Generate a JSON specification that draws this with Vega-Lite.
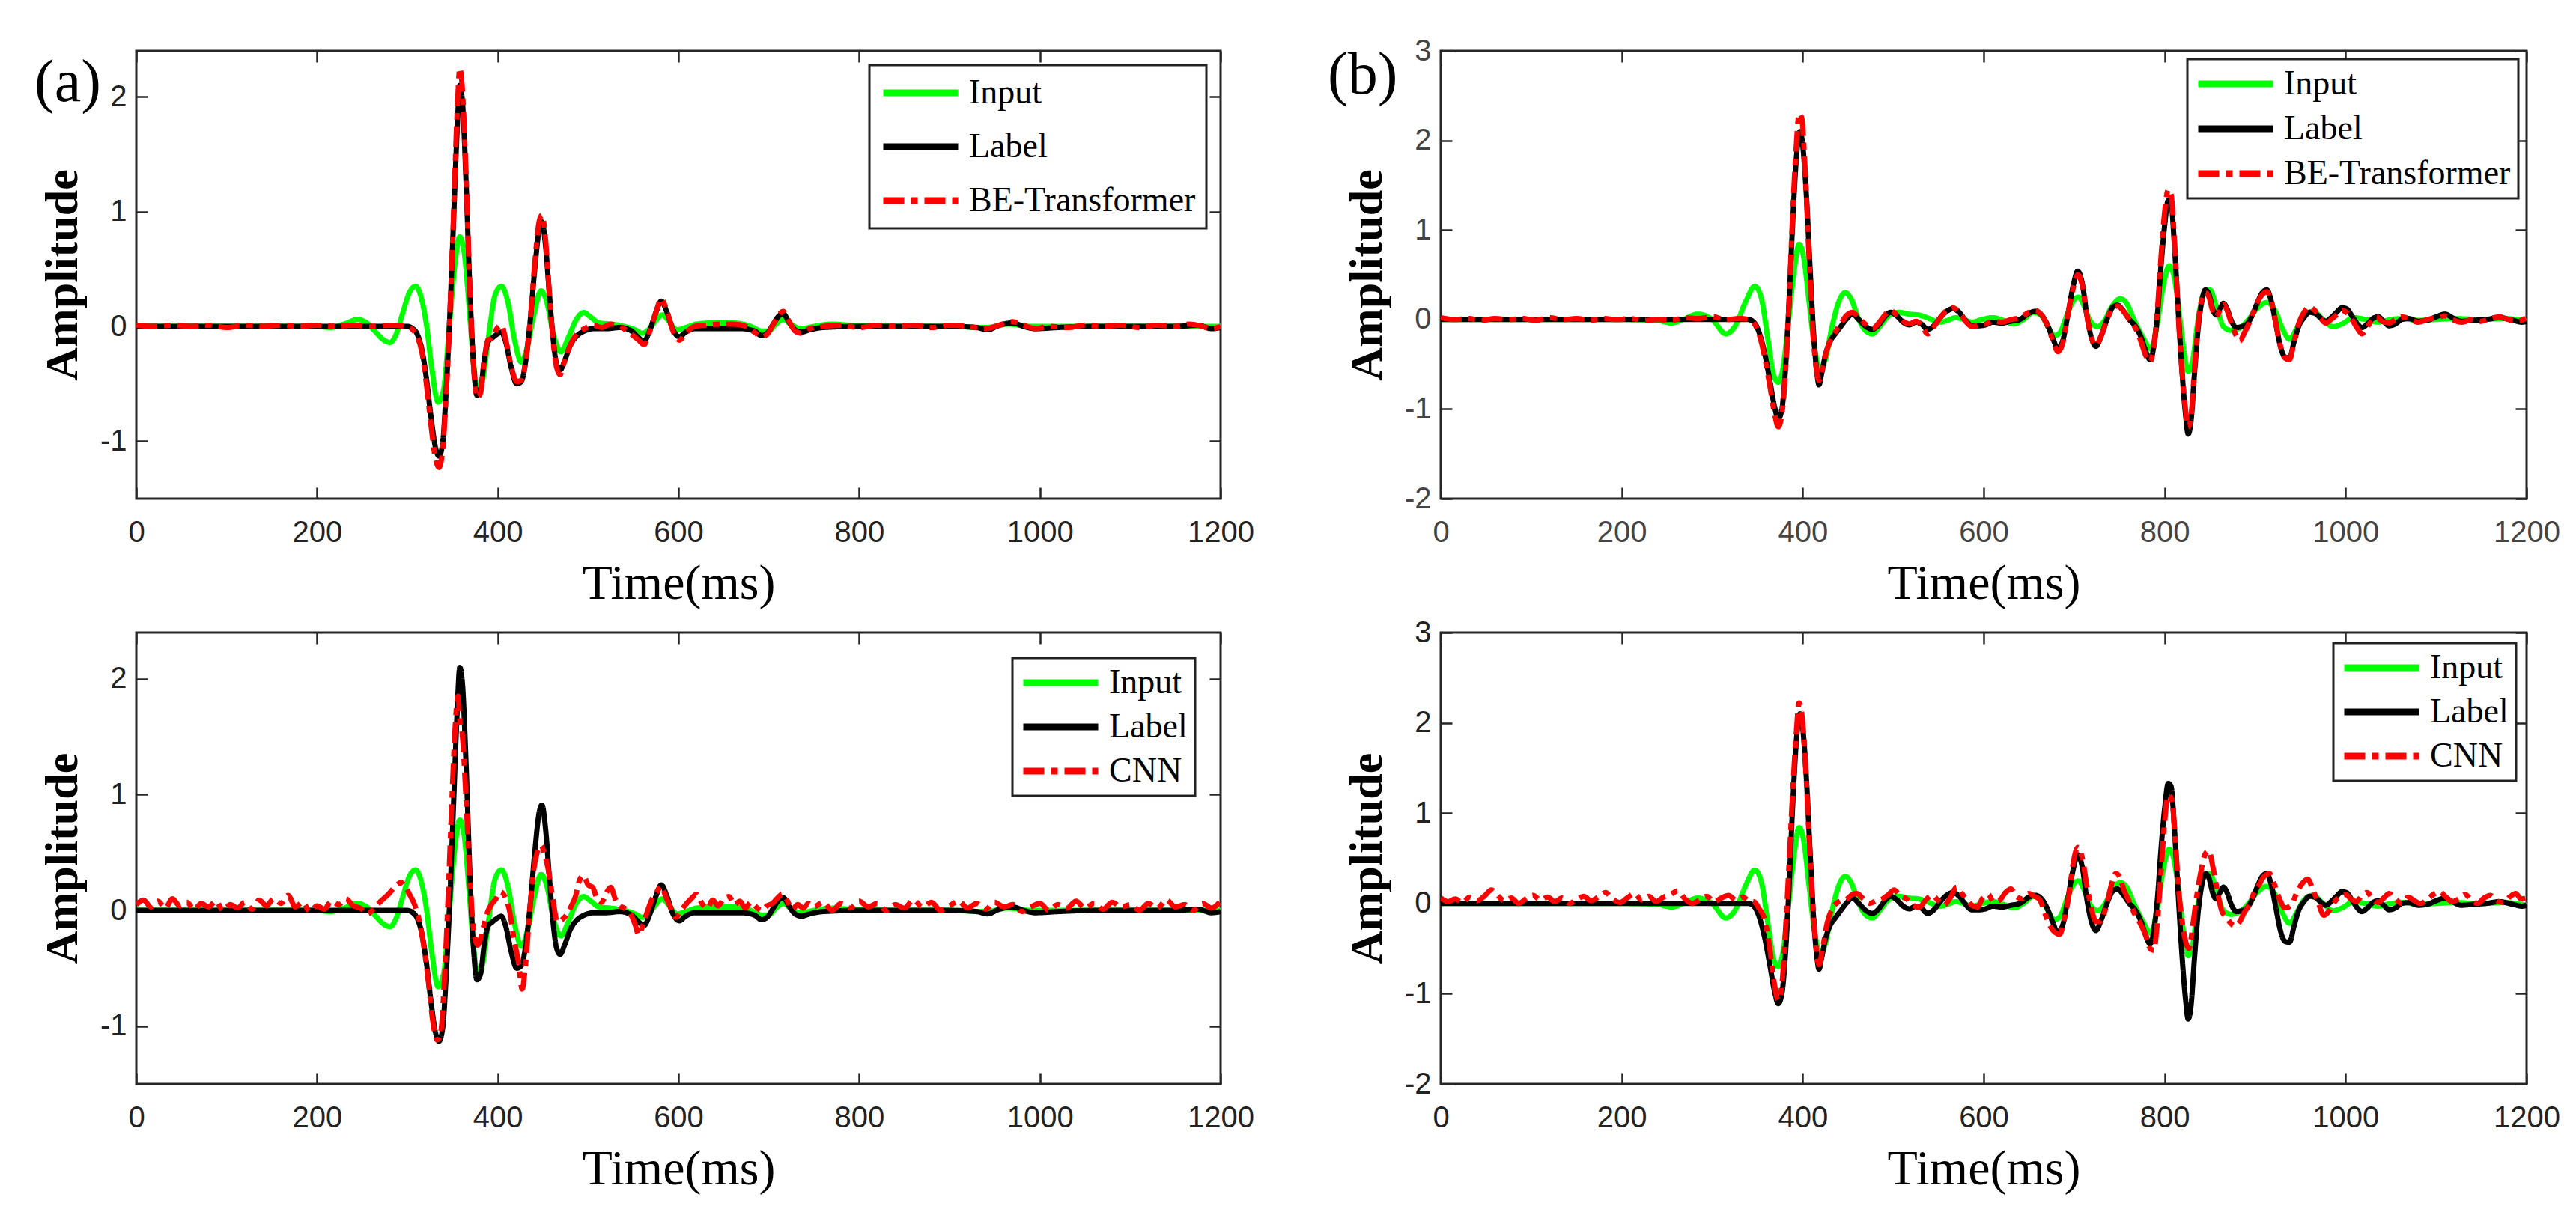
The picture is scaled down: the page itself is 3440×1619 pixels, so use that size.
{
  "$schema": "https://vega.github.io/schema/vega-lite/v6.json",
  "background": "white",
  "padding": {"left": 44, "top": 46, "right": 5, "bottom": 5},
  "columns": 2,
  "spacing": {"row": 179, "column": 294},
  "bounds": "flush",
  "resolve": {
    "scale": {"x": "independent", "y": "independent", "color": "independent", "strokeDash": "independent"},
    "legend": {"color": "independent", "strokeDash": "independent"}
  },
  "config": {
    "view": {"stroke": "#262626", "strokeWidth": 3},
    "axis": {
      "domain": false, "grid": false, "tickSize": -15, "tickWidth": 2.5, "tickColor": "#262626",
      "labelFont": "Liberation Sans", "labelFontSize": 40, "labelColor": "#222222",
      "titleFont": "Liberation Serif", "titleColor": "#000000",
      "labelFlush": false, "labelOverlap": false
    },
    "axisX": {"labelPadding": 40, "titleFontSize": 66, "titleFontWeight": "normal", "titlePadding": 16},
    "axisY": {"labelPadding": 28, "titleFontSize": 62, "titleFontWeight": "bold", "titlePadding": 18},
    "legend": {
      "title": null, "orient": "top-right", "symbolType": "stroke", "symbolSize": 10000,
      "symbolStrokeWidth": 9, "clipHeight": 46, "labelFont": "Liberation Serif", "labelFontSize": 46,
      "labelColor": "#000000", "labelOffset": 10, "labelLimit": 500, "strokeColor": "#222222", "fillColor": "white"
    },
    "text": {"font": "Liberation Serif", "fontSize": 80, "color": "#000000", "align": "left", "baseline": "top"}
  },
  "datasets": {
    "a_input": [
      {"t":0,"v":0,"series":"Input"},{"t":150,"v":0,"series":"Input"},{"t":200,"v":0,"series":"Input"},{"t":215,"v":-0.01,"series":"Input"},{"t":230,"v":0.02,"series":"Input"},{"t":245,"v":0.06,"series":"Input"},{"t":255,"v":0.03,"series":"Input"},{"t":265,"v":-0.05,"series":"Input"},{"t":274,"v":-0.12,"series":"Input"},{"t":281,"v":-0.14,"series":"Input"},{"t":288,"v":-0.06,"series":"Input"},{"t":295,"v":0.12,"series":"Input"},{"t":302,"v":0.29,"series":"Input"},{"t":309,"v":0.35,"series":"Input"},{"t":315,"v":0.26,"series":"Input"},{"t":321,"v":0.02,"series":"Input"},{"t":327,"v":-0.36,"series":"Input"},{"t":334,"v":-0.66,"series":"Input"},{"t":340,"v":-0.55,"series":"Input"},{"t":346,"v":-0.05,"series":"Input"},{"t":352,"v":0.5,"series":"Input"},{"t":358,"v":0.78,"series":"Input"},{"t":363,"v":0.64,"series":"Input"},{"t":368,"v":0.2,"series":"Input"},{"t":373,"v":-0.3,"series":"Input"},{"t":378,"v":-0.57,"series":"Input"},{"t":383,"v":-0.48,"series":"Input"},{"t":390,"v":-0.08,"series":"Input"},{"t":397,"v":0.27,"series":"Input"},{"t":404,"v":0.35,"series":"Input"},{"t":411,"v":0.22,"series":"Input"},{"t":419,"v":-0.13,"series":"Input"},{"t":426,"v":-0.31,"series":"Input"},{"t":433,"v":-0.17,"series":"Input"},{"t":440,"v":0.1,"series":"Input"},{"t":448,"v":0.31,"series":"Input"},{"t":454,"v":0.22,"series":"Input"},{"t":462,"v":-0.08,"series":"Input"},{"t":470,"v":-0.22,"series":"Input"},{"t":478,"v":-0.1,"series":"Input"},{"t":487,"v":0.06,"series":"Input"},{"t":495,"v":0.12,"series":"Input"},{"t":503,"v":0.08,"series":"Input"},{"t":512,"v":0.03,"series":"Input"},{"t":525,"v":0.02,"series":"Input"},{"t":540,"v":0.0,"series":"Input"},{"t":552,"v":-0.03,"series":"Input"},{"t":560,"v":-0.06,"series":"Input"},{"t":568,"v":-0.02,"series":"Input"},{"t":575,"v":0.05,"series":"Input"},{"t":582,"v":0.1,"series":"Input"},{"t":590,"v":0.04,"series":"Input"},{"t":598,"v":-0.03,"series":"Input"},{"t":608,"v":-0.01,"series":"Input"},{"t":620,"v":0.02,"series":"Input"},{"t":640,"v":0.03,"series":"Input"},{"t":660,"v":0.03,"series":"Input"},{"t":680,"v":0.0,"series":"Input"},{"t":692,"v":-0.04,"series":"Input"},{"t":700,"v":-0.04,"series":"Input"},{"t":708,"v":0.02,"series":"Input"},{"t":716,"v":0.06,"series":"Input"},{"t":724,"v":0.02,"series":"Input"},{"t":735,"v":-0.02,"series":"Input"},{"t":750,"v":0.0,"series":"Input"},{"t":770,"v":0.02,"series":"Input"},{"t":790,"v":0.01,"series":"Input"},{"t":850,"v":0.0,"series":"Input"},{"t":900,"v":0.0,"series":"Input"},{"t":940,"v":-0.01,"series":"Input"},{"t":965,"v":0.02,"series":"Input"},{"t":990,"v":0.0,"series":"Input"},{"t":1050,"v":0.0,"series":"Input"},{"t":1100,"v":0.0,"series":"Input"},{"t":1150,"v":0.0,"series":"Input"},{"t":1200,"v":0.0,"series":"Input"}
    ],
    "a_label": [
      {"t":0,"v":0,"series":"Label"},{"t":100,"v":0,"series":"Label"},{"t":200,"v":0,"series":"Label"},{"t":280,"v":0,"series":"Label"},{"t":300,"v":0,"series":"Label"},{"t":306,"v":-0.02,"series":"Label"},{"t":311,"v":-0.07,"series":"Label"},{"t":316,"v":-0.2,"series":"Label"},{"t":321,"v":-0.45,"series":"Label"},{"t":326,"v":-0.78,"series":"Label"},{"t":331,"v":-1.05,"series":"Label"},{"t":335,"v":-1.13,"series":"Label"},{"t":339,"v":-1.02,"series":"Label"},{"t":343,"v":-0.55,"series":"Label"},{"t":347,"v":0.1,"series":"Label"},{"t":351,"v":0.9,"series":"Label"},{"t":355,"v":1.7,"series":"Label"},{"t":358,"v":2.1,"series":"Label"},{"t":361,"v":1.95,"series":"Label"},{"t":365,"v":1.25,"series":"Label"},{"t":369,"v":0.35,"series":"Label"},{"t":373,"v":-0.3,"series":"Label"},{"t":377,"v":-0.6,"series":"Label"},{"t":381,"v":-0.55,"series":"Label"},{"t":385,"v":-0.3,"series":"Label"},{"t":389,"v":-0.14,"series":"Label"},{"t":394,"v":-0.1,"series":"Label"},{"t":399,"v":-0.07,"series":"Label"},{"t":404,"v":-0.05,"series":"Label"},{"t":409,"v":-0.14,"series":"Label"},{"t":415,"v":-0.36,"series":"Label"},{"t":421,"v":-0.5,"series":"Label"},{"t":426,"v":-0.48,"series":"Label"},{"t":431,"v":-0.3,"series":"Label"},{"t":436,"v":0.05,"series":"Label"},{"t":441,"v":0.5,"series":"Label"},{"t":446,"v":0.85,"series":"Label"},{"t":449,"v":0.91,"series":"Label"},{"t":453,"v":0.7,"series":"Label"},{"t":457,"v":0.3,"series":"Label"},{"t":461,"v":-0.08,"series":"Label"},{"t":465,"v":-0.32,"series":"Label"},{"t":469,"v":-0.38,"series":"Label"},{"t":474,"v":-0.3,"series":"Label"},{"t":480,"v":-0.17,"series":"Label"},{"t":488,"v":-0.08,"series":"Label"},{"t":496,"v":-0.04,"series":"Label"},{"t":506,"v":-0.02,"series":"Label"},{"t":520,"v":-0.02,"series":"Label"},{"t":535,"v":-0.01,"series":"Label"},{"t":548,"v":-0.04,"series":"Label"},{"t":556,"v":-0.1,"series":"Label"},{"t":562,"v":-0.13,"series":"Label"},{"t":568,"v":-0.04,"series":"Label"},{"t":575,"v":0.12,"series":"Label"},{"t":581,"v":0.22,"series":"Label"},{"t":587,"v":0.13,"series":"Label"},{"t":594,"v":-0.03,"series":"Label"},{"t":601,"v":-0.09,"series":"Label"},{"t":608,"v":-0.05,"series":"Label"},{"t":618,"v":-0.02,"series":"Label"},{"t":640,"v":-0.02,"series":"Label"},{"t":670,"v":-0.02,"series":"Label"},{"t":684,"v":-0.04,"series":"Label"},{"t":692,"v":-0.08,"series":"Label"},{"t":698,"v":-0.06,"series":"Label"},{"t":705,"v":0.02,"series":"Label"},{"t":711,"v":0.09,"series":"Label"},{"t":716,"v":0.11,"series":"Label"},{"t":722,"v":0.04,"series":"Label"},{"t":729,"v":-0.03,"series":"Label"},{"t":736,"v":-0.05,"series":"Label"},{"t":745,"v":-0.03,"series":"Label"},{"t":760,"v":-0.01,"series":"Label"},{"t":800,"v":0.0,"series":"Label"},{"t":850,"v":0.0,"series":"Label"},{"t":900,"v":0.0,"series":"Label"},{"t":930,"v":-0.01,"series":"Label"},{"t":942,"v":-0.03,"series":"Label"},{"t":955,"v":0.01,"series":"Label"},{"t":970,"v":0.03,"series":"Label"},{"t":982,"v":0.0,"series":"Label"},{"t":995,"v":-0.02,"series":"Label"},{"t":1020,"v":-0.01,"series":"Label"},{"t":1060,"v":0.0,"series":"Label"},{"t":1100,"v":0.0,"series":"Label"},{"t":1150,"v":0.0,"series":"Label"},{"t":1175,"v":0.01,"series":"Label"},{"t":1190,"v":-0.02,"series":"Label"},{"t":1200,"v":-0.01,"series":"Label"}
    ],
    "a_be": [
      {"t":0,"v":0.01,"series":"BE-Transformer"},{"t":20,"v":0.0,"series":"BE-Transformer"},{"t":40,"v":0.01,"series":"BE-Transformer"},{"t":60,"v":0.0,"series":"BE-Transformer"},{"t":80,"v":0.01,"series":"BE-Transformer"},{"t":100,"v":-0.01,"series":"BE-Transformer"},{"t":120,"v":0.01,"series":"BE-Transformer"},{"t":140,"v":0.0,"series":"BE-Transformer"},{"t":160,"v":0.01,"series":"BE-Transformer"},{"t":180,"v":0.0,"series":"BE-Transformer"},{"t":200,"v":0.01,"series":"BE-Transformer"},{"t":220,"v":0.0,"series":"BE-Transformer"},{"t":240,"v":0.01,"series":"BE-Transformer"},{"t":260,"v":0.0,"series":"BE-Transformer"},{"t":280,"v":0.01,"series":"BE-Transformer"},{"t":300,"v":0.0,"series":"BE-Transformer"},{"t":306,"v":-0.03,"series":"BE-Transformer"},{"t":311,"v":-0.09,"series":"BE-Transformer"},{"t":316,"v":-0.22,"series":"BE-Transformer"},{"t":321,"v":-0.5,"series":"BE-Transformer"},{"t":326,"v":-0.85,"series":"BE-Transformer"},{"t":331,"v":-1.15,"series":"BE-Transformer"},{"t":335,"v":-1.23,"series":"BE-Transformer"},{"t":339,"v":-1.08,"series":"BE-Transformer"},{"t":343,"v":-0.58,"series":"BE-Transformer"},{"t":347,"v":0.1,"series":"BE-Transformer"},{"t":351,"v":0.95,"series":"BE-Transformer"},{"t":355,"v":1.85,"series":"BE-Transformer"},{"t":358,"v":2.25,"series":"BE-Transformer"},{"t":361,"v":2.05,"series":"BE-Transformer"},{"t":365,"v":1.3,"series":"BE-Transformer"},{"t":369,"v":0.35,"series":"BE-Transformer"},{"t":373,"v":-0.32,"series":"BE-Transformer"},{"t":377,"v":-0.62,"series":"BE-Transformer"},{"t":381,"v":-0.58,"series":"BE-Transformer"},{"t":385,"v":-0.3,"series":"BE-Transformer"},{"t":389,"v":-0.12,"series":"BE-Transformer"},{"t":394,"v":-0.1,"series":"BE-Transformer"},{"t":399,"v":-0.02,"series":"BE-Transformer"},{"t":404,"v":0.01,"series":"BE-Transformer"},{"t":409,"v":-0.12,"series":"BE-Transformer"},{"t":415,"v":-0.35,"series":"BE-Transformer"},{"t":421,"v":-0.48,"series":"BE-Transformer"},{"t":426,"v":-0.47,"series":"BE-Transformer"},{"t":431,"v":-0.3,"series":"BE-Transformer"},{"t":436,"v":0.05,"series":"BE-Transformer"},{"t":441,"v":0.55,"series":"BE-Transformer"},{"t":446,"v":0.92,"series":"BE-Transformer"},{"t":449,"v":0.97,"series":"BE-Transformer"},{"t":453,"v":0.75,"series":"BE-Transformer"},{"t":457,"v":0.3,"series":"BE-Transformer"},{"t":461,"v":-0.1,"series":"BE-Transformer"},{"t":465,"v":-0.35,"series":"BE-Transformer"},{"t":469,"v":-0.42,"series":"BE-Transformer"},{"t":474,"v":-0.3,"series":"BE-Transformer"},{"t":480,"v":-0.17,"series":"BE-Transformer"},{"t":488,"v":-0.06,"series":"BE-Transformer"},{"t":496,"v":-0.02,"series":"BE-Transformer"},{"t":506,"v":0.01,"series":"BE-Transformer"},{"t":515,"v":-0.01,"series":"BE-Transformer"},{"t":525,"v":0.02,"series":"BE-Transformer"},{"t":535,"v":0.0,"series":"BE-Transformer"},{"t":545,"v":-0.05,"series":"BE-Transformer"},{"t":556,"v":-0.12,"series":"BE-Transformer"},{"t":562,"v":-0.16,"series":"BE-Transformer"},{"t":568,"v":-0.05,"series":"BE-Transformer"},{"t":575,"v":0.12,"series":"BE-Transformer"},{"t":581,"v":0.24,"series":"BE-Transformer"},{"t":587,"v":0.14,"series":"BE-Transformer"},{"t":594,"v":-0.04,"series":"BE-Transformer"},{"t":601,"v":-0.12,"series":"BE-Transformer"},{"t":608,"v":-0.06,"series":"BE-Transformer"},{"t":618,"v":0.0,"series":"BE-Transformer"},{"t":630,"v":0.01,"series":"BE-Transformer"},{"t":645,"v":0.02,"series":"BE-Transformer"},{"t":660,"v":0.02,"series":"BE-Transformer"},{"t":675,"v":0.0,"series":"BE-Transformer"},{"t":684,"v":-0.05,"series":"BE-Transformer"},{"t":692,"v":-0.09,"series":"BE-Transformer"},{"t":698,"v":-0.07,"series":"BE-Transformer"},{"t":705,"v":0.02,"series":"BE-Transformer"},{"t":711,"v":0.1,"series":"BE-Transformer"},{"t":716,"v":0.13,"series":"BE-Transformer"},{"t":722,"v":0.05,"series":"BE-Transformer"},{"t":729,"v":-0.04,"series":"BE-Transformer"},{"t":736,"v":-0.06,"series":"BE-Transformer"},{"t":745,"v":-0.02,"series":"BE-Transformer"},{"t":760,"v":0.0,"series":"BE-Transformer"},{"t":780,"v":0.01,"series":"BE-Transformer"},{"t":800,"v":-0.01,"series":"BE-Transformer"},{"t":820,"v":0.01,"series":"BE-Transformer"},{"t":840,"v":0.0,"series":"BE-Transformer"},{"t":860,"v":0.01,"series":"BE-Transformer"},{"t":880,"v":-0.01,"series":"BE-Transformer"},{"t":900,"v":0.01,"series":"BE-Transformer"},{"t":920,"v":0.0,"series":"BE-Transformer"},{"t":940,"v":-0.02,"series":"BE-Transformer"},{"t":955,"v":0.01,"series":"BE-Transformer"},{"t":970,"v":0.04,"series":"BE-Transformer"},{"t":982,"v":0.01,"series":"BE-Transformer"},{"t":995,"v":-0.02,"series":"BE-Transformer"},{"t":1010,"v":0.0,"series":"BE-Transformer"},{"t":1030,"v":-0.01,"series":"BE-Transformer"},{"t":1050,"v":0.01,"series":"BE-Transformer"},{"t":1070,"v":0.0,"series":"BE-Transformer"},{"t":1090,"v":0.01,"series":"BE-Transformer"},{"t":1110,"v":-0.01,"series":"BE-Transformer"},{"t":1130,"v":0.01,"series":"BE-Transformer"},{"t":1150,"v":0.0,"series":"BE-Transformer"},{"t":1165,"v":0.02,"series":"BE-Transformer"},{"t":1180,"v":0.0,"series":"BE-Transformer"},{"t":1190,"v":-0.02,"series":"BE-Transformer"},{"t":1200,"v":0.0,"series":"BE-Transformer"}
    ],
    "a_cnn": [
      {"t":0,"v":0.05,"series":"CNN"},{"t":8,"v":0.09,"series":"CNN"},{"t":16,"v":0.03,"series":"CNN"},{"t":24,"v":0.08,"series":"CNN"},{"t":32,"v":0.02,"series":"CNN"},{"t":40,"v":0.1,"series":"CNN"},{"t":48,"v":0.04,"series":"CNN"},{"t":56,"v":0.07,"series":"CNN"},{"t":64,"v":0.01,"series":"CNN"},{"t":72,"v":0.06,"series":"CNN"},{"t":80,"v":0.03,"series":"CNN"},{"t":88,"v":0.08,"series":"CNN"},{"t":96,"v":0.0,"series":"CNN"},{"t":104,"v":0.05,"series":"CNN"},{"t":112,"v":0.02,"series":"CNN"},{"t":120,"v":0.07,"series":"CNN"},{"t":128,"v":0.01,"series":"CNN"},{"t":136,"v":0.09,"series":"CNN"},{"t":144,"v":0.04,"series":"CNN"},{"t":152,"v":0.1,"series":"CNN"},{"t":160,"v":0.06,"series":"CNN"},{"t":168,"v":0.13,"series":"CNN"},{"t":176,"v":0.03,"series":"CNN"},{"t":184,"v":0.07,"series":"CNN"},{"t":192,"v":-0.01,"series":"CNN"},{"t":200,"v":0.04,"series":"CNN"},{"t":208,"v":0.01,"series":"CNN"},{"t":216,"v":0.08,"series":"CNN"},{"t":224,"v":0.05,"series":"CNN"},{"t":232,"v":0.1,"series":"CNN"},{"t":240,"v":0.04,"series":"CNN"},{"t":248,"v":0.02,"series":"CNN"},{"t":256,"v":-0.03,"series":"CNN"},{"t":264,"v":0.03,"series":"CNN"},{"t":272,"v":0.09,"series":"CNN"},{"t":279,"v":0.14,"series":"CNN"},{"t":286,"v":0.2,"series":"CNN"},{"t":293,"v":0.24,"series":"CNN"},{"t":298,"v":0.2,"series":"CNN"},{"t":303,"v":0.13,"series":"CNN"},{"t":308,"v":0.05,"series":"CNN"},{"t":313,"v":-0.08,"series":"CNN"},{"t":318,"v":-0.3,"series":"CNN"},{"t":323,"v":-0.6,"series":"CNN"},{"t":328,"v":-0.95,"series":"CNN"},{"t":333,"v":-1.12,"series":"CNN"},{"t":337,"v":-1.05,"series":"CNN"},{"t":341,"v":-0.6,"series":"CNN"},{"t":345,"v":0.1,"series":"CNN"},{"t":349,"v":0.9,"series":"CNN"},{"t":353,"v":1.6,"series":"CNN"},{"t":356,"v":1.85,"series":"CNN"},{"t":358,"v":1.65,"series":"CNN"},{"t":361,"v":1.5,"series":"CNN"},{"t":365,"v":0.95,"series":"CNN"},{"t":369,"v":0.3,"series":"CNN"},{"t":373,"v":-0.15,"series":"CNN"},{"t":378,"v":-0.3,"series":"CNN"},{"t":383,"v":-0.18,"series":"CNN"},{"t":388,"v":-0.03,"series":"CNN"},{"t":393,"v":0.05,"series":"CNN"},{"t":398,"v":0.1,"series":"CNN"},{"t":403,"v":0.16,"series":"CNN"},{"t":408,"v":0.12,"series":"CNN"},{"t":413,"v":0.0,"series":"CNN"},{"t":418,"v":-0.25,"series":"CNN"},{"t":423,"v":-0.45,"series":"CNN"},{"t":427,"v":-0.68,"series":"CNN"},{"t":431,"v":-0.45,"series":"CNN"},{"t":435,"v":-0.05,"series":"CNN"},{"t":439,"v":0.3,"series":"CNN"},{"t":443,"v":0.48,"series":"CNN"},{"t":448,"v":0.56,"series":"CNN"},{"t":452,"v":0.48,"series":"CNN"},{"t":456,"v":0.35,"series":"CNN"},{"t":461,"v":0.1,"series":"CNN"},{"t":466,"v":-0.1,"series":"CNN"},{"t":471,"v":-0.08,"series":"CNN"},{"t":476,"v":-0.04,"series":"CNN"},{"t":481,"v":0.03,"series":"CNN"},{"t":486,"v":0.12,"series":"CNN"},{"t":491,"v":0.27,"series":"CNN"},{"t":495,"v":0.3,"series":"CNN"},{"t":500,"v":0.22,"series":"CNN"},{"t":505,"v":0.2,"series":"CNN"},{"t":510,"v":0.1,"series":"CNN"},{"t":515,"v":0.07,"series":"CNN"},{"t":520,"v":0.15,"series":"CNN"},{"t":525,"v":0.2,"series":"CNN"},{"t":530,"v":0.1,"series":"CNN"},{"t":535,"v":0.04,"series":"CNN"},{"t":540,"v":0.02,"series":"CNN"},{"t":547,"v":-0.03,"series":"CNN"},{"t":552,"v":-0.12,"series":"CNN"},{"t":556,"v":-0.21,"series":"CNN"},{"t":561,"v":-0.12,"series":"CNN"},{"t":566,"v":0.0,"series":"CNN"},{"t":571,"v":0.1,"series":"CNN"},{"t":576,"v":0.16,"series":"CNN"},{"t":581,"v":0.21,"series":"CNN"},{"t":586,"v":0.12,"series":"CNN"},{"t":591,"v":0.03,"series":"CNN"},{"t":597,"v":-0.06,"series":"CNN"},{"t":603,"v":0.0,"series":"CNN"},{"t":608,"v":0.05,"series":"CNN"},{"t":614,"v":0.1,"series":"CNN"},{"t":620,"v":0.14,"series":"CNN"},{"t":626,"v":0.06,"series":"CNN"},{"t":632,"v":0.02,"series":"CNN"},{"t":638,"v":0.09,"series":"CNN"},{"t":644,"v":0.04,"series":"CNN"},{"t":650,"v":0.1,"series":"CNN"},{"t":656,"v":0.12,"series":"CNN"},{"t":662,"v":0.05,"series":"CNN"},{"t":668,"v":0.08,"series":"CNN"},{"t":674,"v":0.02,"series":"CNN"},{"t":680,"v":0.07,"series":"CNN"},{"t":686,"v":0.03,"series":"CNN"},{"t":692,"v":0.0,"series":"CNN"},{"t":698,"v":0.04,"series":"CNN"},{"t":704,"v":0.06,"series":"CNN"},{"t":710,"v":0.11,"series":"CNN"},{"t":715,"v":0.14,"series":"CNN"},{"t":720,"v":0.09,"series":"CNN"},{"t":726,"v":0.01,"series":"CNN"},{"t":732,"v":0.05,"series":"CNN"},{"t":738,"v":0.02,"series":"CNN"},{"t":744,"v":0.06,"series":"CNN"},{"t":750,"v":0.03,"series":"CNN"},{"t":760,"v":0.07,"series":"CNN"},{"t":770,"v":0.0,"series":"CNN"},{"t":780,"v":0.06,"series":"CNN"},{"t":790,"v":0.02,"series":"CNN"},{"t":800,"v":0.08,"series":"CNN"},{"t":810,"v":0.03,"series":"CNN"},{"t":820,"v":0.06,"series":"CNN"},{"t":830,"v":0.0,"series":"CNN"},{"t":840,"v":0.05,"series":"CNN"},{"t":850,"v":0.02,"series":"CNN"},{"t":860,"v":0.09,"series":"CNN"},{"t":870,"v":0.03,"series":"CNN"},{"t":880,"v":0.07,"series":"CNN"},{"t":890,"v":0.0,"series":"CNN"},{"t":900,"v":0.04,"series":"CNN"},{"t":910,"v":0.08,"series":"CNN"},{"t":920,"v":0.02,"series":"CNN"},{"t":930,"v":0.06,"series":"CNN"},{"t":940,"v":0.01,"series":"CNN"},{"t":950,"v":0.07,"series":"CNN"},{"t":960,"v":0.03,"series":"CNN"},{"t":970,"v":0.05,"series":"CNN"},{"t":980,"v":-0.01,"series":"CNN"},{"t":990,"v":0.03,"series":"CNN"},{"t":1000,"v":0.06,"series":"CNN"},{"t":1010,"v":0.0,"series":"CNN"},{"t":1020,"v":0.05,"series":"CNN"},{"t":1030,"v":0.02,"series":"CNN"},{"t":1040,"v":0.08,"series":"CNN"},{"t":1050,"v":0.02,"series":"CNN"},{"t":1060,"v":0.06,"series":"CNN"},{"t":1070,"v":0.01,"series":"CNN"},{"t":1080,"v":0.07,"series":"CNN"},{"t":1090,"v":0.03,"series":"CNN"},{"t":1100,"v":0.05,"series":"CNN"},{"t":1110,"v":0.0,"series":"CNN"},{"t":1120,"v":0.06,"series":"CNN"},{"t":1130,"v":0.02,"series":"CNN"},{"t":1140,"v":0.09,"series":"CNN"},{"t":1150,"v":0.03,"series":"CNN"},{"t":1160,"v":0.05,"series":"CNN"},{"t":1170,"v":0.0,"series":"CNN"},{"t":1180,"v":0.06,"series":"CNN"},{"t":1190,"v":0.02,"series":"CNN"},{"t":1200,"v":0.08,"series":"CNN"}
    ],
    "b_input": [
      {"t":0,"v":0,"series":"Input"},{"t":200,"v":0,"series":"Input"},{"t":240,"v":-0.01,"series":"Input"},{"t":255,"v":-0.04,"series":"Input"},{"t":268,"v":0.0,"series":"Input"},{"t":284,"v":0.06,"series":"Input"},{"t":300,"v":0.0,"series":"Input"},{"t":315,"v":-0.16,"series":"Input"},{"t":325,"v":-0.08,"series":"Input"},{"t":337,"v":0.2,"series":"Input"},{"t":347,"v":0.37,"series":"Input"},{"t":354,"v":0.25,"series":"Input"},{"t":362,"v":-0.25,"series":"Input"},{"t":368,"v":-0.62,"series":"Input"},{"t":373,"v":-0.7,"series":"Input"},{"t":378,"v":-0.55,"series":"Input"},{"t":384,"v":-0.05,"series":"Input"},{"t":390,"v":0.5,"series":"Input"},{"t":396,"v":0.84,"series":"Input"},{"t":401,"v":0.7,"series":"Input"},{"t":407,"v":0.2,"series":"Input"},{"t":413,"v":-0.3,"series":"Input"},{"t":419,"v":-0.55,"series":"Input"},{"t":425,"v":-0.45,"series":"Input"},{"t":432,"v":-0.1,"series":"Input"},{"t":440,"v":0.2,"series":"Input"},{"t":447,"v":0.3,"series":"Input"},{"t":454,"v":0.22,"series":"Input"},{"t":462,"v":0.0,"series":"Input"},{"t":470,"v":-0.13,"series":"Input"},{"t":477,"v":-0.16,"series":"Input"},{"t":485,"v":-0.08,"series":"Input"},{"t":495,"v":0.04,"series":"Input"},{"t":506,"v":0.08,"series":"Input"},{"t":517,"v":0.06,"series":"Input"},{"t":528,"v":0.05,"series":"Input"},{"t":540,"v":0.01,"series":"Input"},{"t":551,"v":-0.03,"series":"Input"},{"t":560,"v":-0.01,"series":"Input"},{"t":569,"v":0.02,"series":"Input"},{"t":578,"v":0.0,"series":"Input"},{"t":587,"v":-0.03,"series":"Input"},{"t":598,"v":0.0,"series":"Input"},{"t":610,"v":0.02,"series":"Input"},{"t":622,"v":-0.01,"series":"Input"},{"t":633,"v":-0.05,"series":"Input"},{"t":644,"v":0.0,"series":"Input"},{"t":655,"v":0.08,"series":"Input"},{"t":664,"v":0.04,"series":"Input"},{"t":671,"v":-0.08,"series":"Input"},{"t":678,"v":-0.18,"series":"Input"},{"t":684,"v":-0.15,"series":"Input"},{"t":692,"v":0.05,"series":"Input"},{"t":700,"v":0.22,"series":"Input"},{"t":705,"v":0.25,"series":"Input"},{"t":711,"v":0.15,"series":"Input"},{"t":718,"v":-0.02,"series":"Input"},{"t":726,"v":-0.08,"series":"Input"},{"t":733,"v":-0.02,"series":"Input"},{"t":742,"v":0.15,"series":"Input"},{"t":751,"v":0.23,"series":"Input"},{"t":758,"v":0.18,"series":"Input"},{"t":766,"v":0.0,"series":"Input"},{"t":775,"v":-0.18,"series":"Input"},{"t":785,"v":-0.33,"series":"Input"},{"t":791,"v":-0.1,"series":"Input"},{"t":798,"v":0.35,"series":"Input"},{"t":805,"v":0.6,"series":"Input"},{"t":811,"v":0.45,"series":"Input"},{"t":817,"v":0.0,"series":"Input"},{"t":822,"v":-0.4,"series":"Input"},{"t":826,"v":-0.58,"series":"Input"},{"t":831,"v":-0.45,"series":"Input"},{"t":837,"v":0.0,"series":"Input"},{"t":843,"v":0.28,"series":"Input"},{"t":850,"v":0.33,"series":"Input"},{"t":857,"v":0.15,"series":"Input"},{"t":865,"v":-0.08,"series":"Input"},{"t":873,"v":-0.12,"series":"Input"},{"t":882,"v":-0.1,"series":"Input"},{"t":891,"v":-0.02,"series":"Input"},{"t":902,"v":0.12,"series":"Input"},{"t":913,"v":0.19,"series":"Input"},{"t":922,"v":0.1,"series":"Input"},{"t":931,"v":-0.12,"series":"Input"},{"t":938,"v":-0.22,"series":"Input"},{"t":946,"v":-0.1,"series":"Input"},{"t":955,"v":0.05,"series":"Input"},{"t":964,"v":0.09,"series":"Input"},{"t":975,"v":0.0,"series":"Input"},{"t":986,"v":-0.08,"series":"Input"},{"t":996,"v":-0.05,"series":"Input"},{"t":1009,"v":0.02,"series":"Input"},{"t":1022,"v":0.0,"series":"Input"},{"t":1036,"v":-0.03,"series":"Input"},{"t":1050,"v":0.0,"series":"Input"},{"t":1063,"v":0.01,"series":"Input"},{"t":1080,"v":-0.01,"series":"Input"},{"t":1100,"v":0.0,"series":"Input"},{"t":1120,"v":0.01,"series":"Input"},{"t":1150,"v":0.0,"series":"Input"},{"t":1175,"v":0.01,"series":"Input"},{"t":1200,"v":-0.02,"series":"Input"}
    ],
    "b_label": [
      {"t":0,"v":0,"series":"Label"},{"t":100,"v":0,"series":"Label"},{"t":200,"v":0,"series":"Label"},{"t":300,"v":0,"series":"Label"},{"t":340,"v":0,"series":"Label"},{"t":346,"v":-0.03,"series":"Label"},{"t":352,"v":-0.15,"series":"Label"},{"t":358,"v":-0.38,"series":"Label"},{"t":364,"v":-0.7,"series":"Label"},{"t":369,"v":-0.98,"series":"Label"},{"t":373,"v":-1.11,"series":"Label"},{"t":377,"v":-1.0,"series":"Label"},{"t":381,"v":-0.55,"series":"Label"},{"t":385,"v":0.2,"series":"Label"},{"t":389,"v":1.1,"series":"Label"},{"t":393,"v":1.8,"series":"Label"},{"t":397,"v":2.1,"series":"Label"},{"t":400,"v":1.95,"series":"Label"},{"t":404,"v":1.4,"series":"Label"},{"t":408,"v":0.6,"series":"Label"},{"t":412,"v":-0.15,"series":"Label"},{"t":416,"v":-0.62,"series":"Label"},{"t":418,"v":-0.73,"series":"Label"},{"t":421,"v":-0.6,"series":"Label"},{"t":425,"v":-0.4,"series":"Label"},{"t":430,"v":-0.25,"series":"Label"},{"t":436,"v":-0.16,"series":"Label"},{"t":442,"v":-0.08,"series":"Label"},{"t":448,"v":0.0,"series":"Label"},{"t":455,"v":0.06,"series":"Label"},{"t":462,"v":0.0,"series":"Label"},{"t":470,"v":-0.08,"series":"Label"},{"t":477,"v":-0.11,"series":"Label"},{"t":484,"v":-0.06,"series":"Label"},{"t":490,"v":0.02,"series":"Label"},{"t":497,"v":0.08,"series":"Label"},{"t":504,"v":0.04,"series":"Label"},{"t":511,"v":-0.03,"series":"Label"},{"t":518,"v":-0.06,"series":"Label"},{"t":525,"v":-0.03,"series":"Label"},{"t":531,"v":-0.05,"series":"Label"},{"t":538,"v":-0.11,"series":"Label"},{"t":545,"v":-0.07,"series":"Label"},{"t":552,"v":0.02,"series":"Label"},{"t":559,"v":0.09,"series":"Label"},{"t":566,"v":0.12,"series":"Label"},{"t":573,"v":0.08,"series":"Label"},{"t":580,"v":-0.01,"series":"Label"},{"t":587,"v":-0.07,"series":"Label"},{"t":595,"v":-0.07,"series":"Label"},{"t":602,"v":-0.06,"series":"Label"},{"t":610,"v":-0.03,"series":"Label"},{"t":620,"v":-0.04,"series":"Label"},{"t":630,"v":-0.02,"series":"Label"},{"t":640,"v":0.0,"series":"Label"},{"t":650,"v":0.07,"series":"Label"},{"t":657,"v":0.09,"series":"Label"},{"t":664,"v":0.05,"series":"Label"},{"t":670,"v":-0.05,"series":"Label"},{"t":676,"v":-0.2,"series":"Label"},{"t":682,"v":-0.32,"series":"Label"},{"t":687,"v":-0.25,"series":"Label"},{"t":693,"v":0.05,"series":"Label"},{"t":699,"v":0.38,"series":"Label"},{"t":704,"v":0.54,"series":"Label"},{"t":709,"v":0.4,"series":"Label"},{"t":714,"v":0.05,"series":"Label"},{"t":719,"v":-0.2,"series":"Label"},{"t":724,"v":-0.3,"series":"Label"},{"t":730,"v":-0.18,"series":"Label"},{"t":737,"v":0.02,"series":"Label"},{"t":743,"v":0.14,"series":"Label"},{"t":748,"v":0.16,"series":"Label"},{"t":754,"v":0.1,"series":"Label"},{"t":761,"v":0.0,"series":"Label"},{"t":768,"v":-0.08,"series":"Label"},{"t":774,"v":-0.2,"series":"Label"},{"t":779,"v":-0.35,"series":"Label"},{"t":784,"v":-0.45,"series":"Label"},{"t":788,"v":-0.3,"series":"Label"},{"t":792,"v":0.05,"series":"Label"},{"t":796,"v":0.6,"series":"Label"},{"t":800,"v":1.05,"series":"Label"},{"t":804,"v":1.33,"series":"Label"},{"t":807,"v":1.3,"series":"Label"},{"t":811,"v":0.8,"series":"Label"},{"t":815,"v":0.1,"series":"Label"},{"t":819,"v":-0.55,"series":"Label"},{"t":823,"v":-1.05,"series":"Label"},{"t":826,"v":-1.28,"series":"Label"},{"t":829,"v":-1.15,"series":"Label"},{"t":833,"v":-0.6,"series":"Label"},{"t":837,"v":-0.1,"series":"Label"},{"t":841,"v":0.2,"series":"Label"},{"t":845,"v":0.33,"series":"Label"},{"t":849,"v":0.28,"series":"Label"},{"t":853,"v":0.12,"series":"Label"},{"t":857,"v":0.05,"series":"Label"},{"t":861,"v":0.12,"series":"Label"},{"t":865,"v":0.18,"series":"Label"},{"t":869,"v":0.12,"series":"Label"},{"t":874,"v":-0.02,"series":"Label"},{"t":879,"v":-0.09,"series":"Label"},{"t":885,"v":-0.08,"series":"Label"},{"t":891,"v":-0.05,"series":"Label"},{"t":897,"v":0.05,"series":"Label"},{"t":903,"v":0.2,"series":"Label"},{"t":908,"v":0.3,"series":"Label"},{"t":913,"v":0.33,"series":"Label"},{"t":918,"v":0.2,"series":"Label"},{"t":923,"v":-0.05,"series":"Label"},{"t":928,"v":-0.3,"series":"Label"},{"t":933,"v":-0.42,"series":"Label"},{"t":938,"v":-0.43,"series":"Label"},{"t":943,"v":-0.25,"series":"Label"},{"t":948,"v":-0.08,"series":"Label"},{"t":954,"v":0.02,"series":"Label"},{"t":960,"v":0.08,"series":"Label"},{"t":966,"v":0.07,"series":"Label"},{"t":972,"v":0.02,"series":"Label"},{"t":978,"v":-0.02,"series":"Label"},{"t":984,"v":0.02,"series":"Label"},{"t":990,"v":0.08,"series":"Label"},{"t":996,"v":0.13,"series":"Label"},{"t":1001,"v":0.12,"series":"Label"},{"t":1007,"v":0.04,"series":"Label"},{"t":1013,"v":-0.05,"series":"Label"},{"t":1018,"v":-0.09,"series":"Label"},{"t":1024,"v":-0.05,"series":"Label"},{"t":1030,"v":0.01,"series":"Label"},{"t":1036,"v":0.03,"series":"Label"},{"t":1042,"v":-0.02,"series":"Label"},{"t":1048,"v":-0.07,"series":"Label"},{"t":1055,"v":-0.05,"series":"Label"},{"t":1062,"v":0.0,"series":"Label"},{"t":1070,"v":0.01,"series":"Label"},{"t":1080,"v":-0.02,"series":"Label"},{"t":1090,"v":-0.01,"series":"Label"},{"t":1100,"v":0.03,"series":"Label"},{"t":1110,"v":0.06,"series":"Label"},{"t":1118,"v":0.02,"series":"Label"},{"t":1128,"v":-0.02,"series":"Label"},{"t":1140,"v":-0.01,"series":"Label"},{"t":1155,"v":0.0,"series":"Label"},{"t":1170,"v":0.02,"series":"Label"},{"t":1185,"v":-0.01,"series":"Label"},{"t":1195,"v":-0.03,"series":"Label"},{"t":1200,"v":-0.02,"series":"Label"}
    ],
    "b_be": [
      {"t":0,"v":0.02,"series":"BE-Transformer"},{"t":15,"v":0.0,"series":"BE-Transformer"},{"t":30,"v":0.01,"series":"BE-Transformer"},{"t":45,"v":-0.01,"series":"BE-Transformer"},{"t":60,"v":0.01,"series":"BE-Transformer"},{"t":75,"v":0.0,"series":"BE-Transformer"},{"t":90,"v":0.01,"series":"BE-Transformer"},{"t":105,"v":-0.01,"series":"BE-Transformer"},{"t":120,"v":0.02,"series":"BE-Transformer"},{"t":135,"v":0.0,"series":"BE-Transformer"},{"t":150,"v":0.01,"series":"BE-Transformer"},{"t":165,"v":-0.01,"series":"BE-Transformer"},{"t":180,"v":0.01,"series":"BE-Transformer"},{"t":195,"v":0.0,"series":"BE-Transformer"},{"t":210,"v":0.01,"series":"BE-Transformer"},{"t":225,"v":-0.01,"series":"BE-Transformer"},{"t":240,"v":0.0,"series":"BE-Transformer"},{"t":255,"v":-0.01,"series":"BE-Transformer"},{"t":270,"v":0.02,"series":"BE-Transformer"},{"t":285,"v":0.01,"series":"BE-Transformer"},{"t":300,"v":0.03,"series":"BE-Transformer"},{"t":315,"v":0.0,"series":"BE-Transformer"},{"t":330,"v":0.01,"series":"BE-Transformer"},{"t":340,"v":0.0,"series":"BE-Transformer"},{"t":346,"v":-0.04,"series":"BE-Transformer"},{"t":352,"v":-0.17,"series":"BE-Transformer"},{"t":358,"v":-0.42,"series":"BE-Transformer"},{"t":364,"v":-0.76,"series":"BE-Transformer"},{"t":369,"v":-1.06,"series":"BE-Transformer"},{"t":373,"v":-1.2,"series":"BE-Transformer"},{"t":377,"v":-1.06,"series":"BE-Transformer"},{"t":381,"v":-0.58,"series":"BE-Transformer"},{"t":385,"v":0.22,"series":"BE-Transformer"},{"t":389,"v":1.2,"series":"BE-Transformer"},{"t":393,"v":1.95,"series":"BE-Transformer"},{"t":396,"v":2.3,"series":"BE-Transformer"},{"t":399,"v":2.25,"series":"BE-Transformer"},{"t":403,"v":1.6,"series":"BE-Transformer"},{"t":407,"v":0.7,"series":"BE-Transformer"},{"t":411,"v":-0.1,"series":"BE-Transformer"},{"t":415,"v":-0.55,"series":"BE-Transformer"},{"t":418,"v":-0.68,"series":"BE-Transformer"},{"t":421,"v":-0.58,"series":"BE-Transformer"},{"t":425,"v":-0.4,"series":"BE-Transformer"},{"t":430,"v":-0.25,"series":"BE-Transformer"},{"t":436,"v":-0.14,"series":"BE-Transformer"},{"t":442,"v":-0.05,"series":"BE-Transformer"},{"t":448,"v":0.04,"series":"BE-Transformer"},{"t":455,"v":0.08,"series":"BE-Transformer"},{"t":462,"v":0.02,"series":"BE-Transformer"},{"t":470,"v":-0.06,"series":"BE-Transformer"},{"t":477,"v":-0.1,"series":"BE-Transformer"},{"t":484,"v":-0.04,"series":"BE-Transformer"},{"t":490,"v":0.04,"series":"BE-Transformer"},{"t":497,"v":0.1,"series":"BE-Transformer"},{"t":504,"v":0.05,"series":"BE-Transformer"},{"t":511,"v":-0.02,"series":"BE-Transformer"},{"t":518,"v":-0.05,"series":"BE-Transformer"},{"t":525,"v":-0.02,"series":"BE-Transformer"},{"t":531,"v":-0.06,"series":"BE-Transformer"},{"t":538,"v":-0.16,"series":"BE-Transformer"},{"t":545,"v":-0.08,"series":"BE-Transformer"},{"t":552,"v":0.02,"series":"BE-Transformer"},{"t":559,"v":0.1,"series":"BE-Transformer"},{"t":566,"v":0.13,"series":"BE-Transformer"},{"t":573,"v":0.08,"series":"BE-Transformer"},{"t":580,"v":-0.02,"series":"BE-Transformer"},{"t":587,"v":-0.08,"series":"BE-Transformer"},{"t":595,"v":-0.06,"series":"BE-Transformer"},{"t":602,"v":-0.05,"series":"BE-Transformer"},{"t":610,"v":-0.02,"series":"BE-Transformer"},{"t":620,"v":-0.03,"series":"BE-Transformer"},{"t":630,"v":0.0,"series":"BE-Transformer"},{"t":640,"v":0.02,"series":"BE-Transformer"},{"t":650,"v":0.08,"series":"BE-Transformer"},{"t":657,"v":0.1,"series":"BE-Transformer"},{"t":664,"v":0.05,"series":"BE-Transformer"},{"t":670,"v":-0.06,"series":"BE-Transformer"},{"t":676,"v":-0.22,"series":"BE-Transformer"},{"t":682,"v":-0.36,"series":"BE-Transformer"},{"t":687,"v":-0.28,"series":"BE-Transformer"},{"t":693,"v":0.05,"series":"BE-Transformer"},{"t":699,"v":0.35,"series":"BE-Transformer"},{"t":704,"v":0.5,"series":"BE-Transformer"},{"t":709,"v":0.38,"series":"BE-Transformer"},{"t":714,"v":0.05,"series":"BE-Transformer"},{"t":719,"v":-0.2,"series":"BE-Transformer"},{"t":724,"v":-0.29,"series":"BE-Transformer"},{"t":730,"v":-0.18,"series":"BE-Transformer"},{"t":737,"v":0.02,"series":"BE-Transformer"},{"t":743,"v":0.13,"series":"BE-Transformer"},{"t":748,"v":0.15,"series":"BE-Transformer"},{"t":754,"v":0.1,"series":"BE-Transformer"},{"t":761,"v":0.0,"series":"BE-Transformer"},{"t":768,"v":-0.1,"series":"BE-Transformer"},{"t":774,"v":-0.25,"series":"BE-Transformer"},{"t":779,"v":-0.4,"series":"BE-Transformer"},{"t":784,"v":-0.47,"series":"BE-Transformer"},{"t":788,"v":-0.3,"series":"BE-Transformer"},{"t":792,"v":0.1,"series":"BE-Transformer"},{"t":796,"v":0.7,"series":"BE-Transformer"},{"t":800,"v":1.2,"series":"BE-Transformer"},{"t":804,"v":1.45,"series":"BE-Transformer"},{"t":807,"v":1.4,"series":"BE-Transformer"},{"t":811,"v":0.85,"series":"BE-Transformer"},{"t":815,"v":0.05,"series":"BE-Transformer"},{"t":819,"v":-0.55,"series":"BE-Transformer"},{"t":823,"v":-1.0,"series":"BE-Transformer"},{"t":826,"v":-1.2,"series":"BE-Transformer"},{"t":829,"v":-1.1,"series":"BE-Transformer"},{"t":833,"v":-0.55,"series":"BE-Transformer"},{"t":837,"v":-0.05,"series":"BE-Transformer"},{"t":841,"v":0.22,"series":"BE-Transformer"},{"t":845,"v":0.3,"series":"BE-Transformer"},{"t":849,"v":0.25,"series":"BE-Transformer"},{"t":853,"v":0.1,"series":"BE-Transformer"},{"t":857,"v":0.03,"series":"BE-Transformer"},{"t":861,"v":0.1,"series":"BE-Transformer"},{"t":865,"v":0.17,"series":"BE-Transformer"},{"t":869,"v":0.1,"series":"BE-Transformer"},{"t":874,"v":-0.05,"series":"BE-Transformer"},{"t":879,"v":-0.18,"series":"BE-Transformer"},{"t":883,"v":-0.24,"series":"BE-Transformer"},{"t":888,"v":-0.15,"series":"BE-Transformer"},{"t":893,"v":-0.05,"series":"BE-Transformer"},{"t":898,"v":0.08,"series":"BE-Transformer"},{"t":903,"v":0.2,"series":"BE-Transformer"},{"t":908,"v":0.28,"series":"BE-Transformer"},{"t":913,"v":0.31,"series":"BE-Transformer"},{"t":918,"v":0.2,"series":"BE-Transformer"},{"t":923,"v":-0.05,"series":"BE-Transformer"},{"t":928,"v":-0.3,"series":"BE-Transformer"},{"t":933,"v":-0.43,"series":"BE-Transformer"},{"t":938,"v":-0.45,"series":"BE-Transformer"},{"t":943,"v":-0.25,"series":"BE-Transformer"},{"t":948,"v":-0.05,"series":"BE-Transformer"},{"t":954,"v":0.08,"series":"BE-Transformer"},{"t":960,"v":0.14,"series":"BE-Transformer"},{"t":966,"v":0.1,"series":"BE-Transformer"},{"t":972,"v":0.02,"series":"BE-Transformer"},{"t":978,"v":-0.04,"series":"BE-Transformer"},{"t":984,"v":0.0,"series":"BE-Transformer"},{"t":990,"v":0.05,"series":"BE-Transformer"},{"t":996,"v":0.1,"series":"BE-Transformer"},{"t":1001,"v":0.08,"series":"BE-Transformer"},{"t":1007,"v":0.0,"series":"BE-Transformer"},{"t":1013,"v":-0.1,"series":"BE-Transformer"},{"t":1018,"v":-0.16,"series":"BE-Transformer"},{"t":1022,"v":-0.12,"series":"BE-Transformer"},{"t":1028,"v":-0.02,"series":"BE-Transformer"},{"t":1034,"v":0.03,"series":"BE-Transformer"},{"t":1040,"v":-0.02,"series":"BE-Transformer"},{"t":1048,"v":-0.04,"series":"BE-Transformer"},{"t":1055,"v":0.0,"series":"BE-Transformer"},{"t":1062,"v":0.03,"series":"BE-Transformer"},{"t":1070,"v":0.01,"series":"BE-Transformer"},{"t":1080,"v":-0.03,"series":"BE-Transformer"},{"t":1090,"v":0.0,"series":"BE-Transformer"},{"t":1100,"v":0.02,"series":"BE-Transformer"},{"t":1110,"v":0.04,"series":"BE-Transformer"},{"t":1118,"v":0.0,"series":"BE-Transformer"},{"t":1128,"v":-0.03,"series":"BE-Transformer"},{"t":1140,"v":0.0,"series":"BE-Transformer"},{"t":1150,"v":-0.02,"series":"BE-Transformer"},{"t":1160,"v":0.01,"series":"BE-Transformer"},{"t":1170,"v":0.03,"series":"BE-Transformer"},{"t":1180,"v":0.0,"series":"BE-Transformer"},{"t":1190,"v":-0.02,"series":"BE-Transformer"},{"t":1200,"v":0.02,"series":"BE-Transformer"}
    ],
    "b_cnn": [
      {"t":0,"v":0.06,"series":"CNN"},{"t":8,"v":0.02,"series":"CNN"},{"t":16,"v":0.05,"series":"CNN"},{"t":24,"v":0.01,"series":"CNN"},{"t":32,"v":0.07,"series":"CNN"},{"t":40,"v":0.03,"series":"CNN"},{"t":48,"v":0.08,"series":"CNN"},{"t":56,"v":0.15,"series":"CNN"},{"t":62,"v":0.1,"series":"CNN"},{"t":70,"v":0.03,"series":"CNN"},{"t":78,"v":0.06,"series":"CNN"},{"t":86,"v":0.0,"series":"CNN"},{"t":94,"v":0.05,"series":"CNN"},{"t":102,"v":0.09,"series":"CNN"},{"t":110,"v":0.04,"series":"CNN"},{"t":118,"v":0.07,"series":"CNN"},{"t":126,"v":0.02,"series":"CNN"},{"t":134,"v":0.06,"series":"CNN"},{"t":142,"v":0.0,"series":"CNN"},{"t":150,"v":0.04,"series":"CNN"},{"t":158,"v":0.08,"series":"CNN"},{"t":166,"v":0.03,"series":"CNN"},{"t":174,"v":0.07,"series":"CNN"},{"t":182,"v":0.12,"series":"CNN"},{"t":190,"v":0.05,"series":"CNN"},{"t":198,"v":0.01,"series":"CNN"},{"t":206,"v":0.06,"series":"CNN"},{"t":214,"v":0.11,"series":"CNN"},{"t":222,"v":0.04,"series":"CNN"},{"t":230,"v":0.08,"series":"CNN"},{"t":238,"v":0.02,"series":"CNN"},{"t":246,"v":0.07,"series":"CNN"},{"t":254,"v":0.1,"series":"CNN"},{"t":262,"v":0.14,"series":"CNN"},{"t":270,"v":0.05,"series":"CNN"},{"t":278,"v":0.0,"series":"CNN"},{"t":286,"v":0.04,"series":"CNN"},{"t":294,"v":0.08,"series":"CNN"},{"t":302,"v":0.02,"series":"CNN"},{"t":310,"v":0.06,"series":"CNN"},{"t":318,"v":0.09,"series":"CNN"},{"t":326,"v":0.04,"series":"CNN"},{"t":334,"v":0.07,"series":"CNN"},{"t":340,"v":0.03,"series":"CNN"},{"t":346,"v":0.02,"series":"CNN"},{"t":352,"v":-0.06,"series":"CNN"},{"t":358,"v":-0.18,"series":"CNN"},{"t":363,"v":-0.45,"series":"CNN"},{"t":368,"v":-0.85,"series":"CNN"},{"t":373,"v":-1.07,"series":"CNN"},{"t":377,"v":-0.9,"series":"CNN"},{"t":381,"v":-0.3,"series":"CNN"},{"t":385,"v":0.45,"series":"CNN"},{"t":389,"v":1.25,"series":"CNN"},{"t":393,"v":1.9,"series":"CNN"},{"t":396,"v":2.22,"series":"CNN"},{"t":399,"v":2.1,"series":"CNN"},{"t":403,"v":1.55,"series":"CNN"},{"t":407,"v":0.75,"series":"CNN"},{"t":411,"v":0.0,"series":"CNN"},{"t":415,"v":-0.5,"series":"CNN"},{"t":418,"v":-0.68,"series":"CNN"},{"t":422,"v":-0.5,"series":"CNN"},{"t":427,"v":-0.22,"series":"CNN"},{"t":433,"v":-0.05,"series":"CNN"},{"t":440,"v":0.02,"series":"CNN"},{"t":449,"v":0.05,"series":"CNN"},{"t":455,"v":0.1,"series":"CNN"},{"t":460,"v":0.11,"series":"CNN"},{"t":466,"v":0.06,"series":"CNN"},{"t":474,"v":0.0,"series":"CNN"},{"t":481,"v":0.03,"series":"CNN"},{"t":488,"v":0.05,"series":"CNN"},{"t":495,"v":0.1,"series":"CNN"},{"t":501,"v":0.15,"series":"CNN"},{"t":508,"v":0.08,"series":"CNN"},{"t":515,"v":0.05,"series":"CNN"},{"t":522,"v":-0.02,"series":"CNN"},{"t":529,"v":-0.04,"series":"CNN"},{"t":536,"v":0.04,"series":"CNN"},{"t":543,"v":0.09,"series":"CNN"},{"t":550,"v":0.03,"series":"CNN"},{"t":556,"v":-0.02,"series":"CNN"},{"t":563,"v":0.06,"series":"CNN"},{"t":570,"v":0.18,"series":"CNN"},{"t":575,"v":0.12,"series":"CNN"},{"t":581,"v":0.05,"series":"CNN"},{"t":587,"v":-0.02,"series":"CNN"},{"t":593,"v":-0.04,"series":"CNN"},{"t":599,"v":0.06,"series":"CNN"},{"t":605,"v":0.1,"series":"CNN"},{"t":611,"v":0.02,"series":"CNN"},{"t":618,"v":0.04,"series":"CNN"},{"t":624,"v":0.12,"series":"CNN"},{"t":630,"v":0.16,"series":"CNN"},{"t":636,"v":0.08,"series":"CNN"},{"t":643,"v":0.05,"series":"CNN"},{"t":650,"v":0.11,"series":"CNN"},{"t":656,"v":0.08,"series":"CNN"},{"t":662,"v":0.04,"series":"CNN"},{"t":668,"v":-0.12,"series":"CNN"},{"t":674,"v":-0.26,"series":"CNN"},{"t":679,"v":-0.32,"series":"CNN"},{"t":684,"v":-0.34,"series":"CNN"},{"t":689,"v":-0.18,"series":"CNN"},{"t":694,"v":0.08,"series":"CNN"},{"t":699,"v":0.45,"series":"CNN"},{"t":704,"v":0.62,"series":"CNN"},{"t":709,"v":0.5,"series":"CNN"},{"t":714,"v":0.2,"series":"CNN"},{"t":719,"v":-0.05,"series":"CNN"},{"t":724,"v":-0.2,"series":"CNN"},{"t":729,"v":-0.2,"series":"CNN"},{"t":735,"v":-0.05,"series":"CNN"},{"t":741,"v":0.2,"series":"CNN"},{"t":746,"v":0.33,"series":"CNN"},{"t":750,"v":0.3,"series":"CNN"},{"t":755,"v":0.15,"series":"CNN"},{"t":761,"v":0.02,"series":"CNN"},{"t":767,"v":-0.12,"series":"CNN"},{"t":773,"v":-0.22,"series":"CNN"},{"t":779,"v":-0.35,"series":"CNN"},{"t":784,"v":-0.5,"series":"CNN"},{"t":788,"v":-0.52,"series":"CNN"},{"t":792,"v":-0.2,"series":"CNN"},{"t":796,"v":0.35,"series":"CNN"},{"t":800,"v":0.9,"series":"CNN"},{"t":804,"v":1.2,"series":"CNN"},{"t":808,"v":1.15,"series":"CNN"},{"t":812,"v":0.65,"series":"CNN"},{"t":816,"v":0.1,"series":"CNN"},{"t":820,"v":-0.25,"series":"CNN"},{"t":824,"v":-0.45,"series":"CNN"},{"t":827,"v":-0.5,"series":"CNN"},{"t":831,"v":-0.25,"series":"CNN"},{"t":835,"v":0.05,"series":"CNN"},{"t":840,"v":0.35,"series":"CNN"},{"t":845,"v":0.55,"series":"CNN"},{"t":849,"v":0.58,"series":"CNN"},{"t":853,"v":0.42,"series":"CNN"},{"t":858,"v":0.15,"series":"CNN"},{"t":863,"v":-0.08,"series":"CNN"},{"t":868,"v":-0.15,"series":"CNN"},{"t":873,"v":-0.22,"series":"CNN"},{"t":878,"v":-0.25,"series":"CNN"},{"t":883,"v":-0.2,"series":"CNN"},{"t":888,"v":-0.1,"series":"CNN"},{"t":893,"v":-0.02,"series":"CNN"},{"t":898,"v":0.1,"series":"CNN"},{"t":904,"v":0.2,"series":"CNN"},{"t":910,"v":0.3,"series":"CNN"},{"t":916,"v":0.33,"series":"CNN"},{"t":921,"v":0.22,"series":"CNN"},{"t":927,"v":0.05,"series":"CNN"},{"t":933,"v":-0.05,"series":"CNN"},{"t":940,"v":-0.02,"series":"CNN"},{"t":946,"v":0.12,"series":"CNN"},{"t":952,"v":0.22,"series":"CNN"},{"t":958,"v":0.27,"series":"CNN"},{"t":964,"v":0.15,"series":"CNN"},{"t":970,"v":0.0,"series":"CNN"},{"t":976,"v":-0.13,"series":"CNN"},{"t":982,"v":-0.08,"series":"CNN"},{"t":988,"v":0.02,"series":"CNN"},{"t":994,"v":0.08,"series":"CNN"},{"t":1000,"v":0.1,"series":"CNN"},{"t":1006,"v":0.05,"series":"CNN"},{"t":1012,"v":0.02,"series":"CNN"},{"t":1018,"v":0.09,"series":"CNN"},{"t":1024,"v":0.12,"series":"CNN"},{"t":1030,"v":0.05,"series":"CNN"},{"t":1036,"v":0.01,"series":"CNN"},{"t":1042,"v":0.06,"series":"CNN"},{"t":1048,"v":0.11,"series":"CNN"},{"t":1055,"v":0.05,"series":"CNN"},{"t":1062,"v":0.0,"series":"CNN"},{"t":1069,"v":0.07,"series":"CNN"},{"t":1076,"v":0.03,"series":"CNN"},{"t":1083,"v":0.0,"series":"CNN"},{"t":1090,"v":0.04,"series":"CNN"},{"t":1097,"v":0.1,"series":"CNN"},{"t":1104,"v":0.13,"series":"CNN"},{"t":1111,"v":0.07,"series":"CNN"},{"t":1118,"v":0.02,"series":"CNN"},{"t":1125,"v":0.05,"series":"CNN"},{"t":1132,"v":0.1,"series":"CNN"},{"t":1139,"v":0.04,"series":"CNN"},{"t":1146,"v":0.0,"series":"CNN"},{"t":1153,"v":0.06,"series":"CNN"},{"t":1160,"v":0.09,"series":"CNN"},{"t":1167,"v":0.03,"series":"CNN"},{"t":1174,"v":0.01,"series":"CNN"},{"t":1181,"v":0.07,"series":"CNN"},{"t":1188,"v":0.11,"series":"CNN"},{"t":1194,"v":0.05,"series":"CNN"},{"t":1200,"v":0.06,"series":"CNN"}
    ]
  },
  "concat": [
    {
      "width": 1448, "height": 598,
      "resolve": {"axis": {"x": "independent", "y": "independent"}},
      "layer": [
        {
          "data": {"name": "a_input"},
          "mark": {"type": "line", "strokeWidth": 7, "interpolate": "monotone", "clip": true},
          "encoding": {
            "x": {"field": "t", "type": "quantitative", "scale": {"domain": [0, 1200], "nice": false}, "axis": {"orient": "bottom", "values": [0, 200, 400, 600, 800, 1000, 1200], "title": "Time(ms)", "labelExpr": "'' + datum.value"}},
            "y": {"field": "v", "type": "quantitative", "scale": {"domain": [-1.5, 2.4], "nice": false, "zero": false}, "axis": {"orient": "left", "values": [-1, 0, 1, 2], "title": "Amplitude", "labelExpr": "'' + datum.value"}},
            "color": {"field": "series", "type": "nominal", "scale": {"domain": ["Input", "Label", "BE-Transformer"], "range": ["#00ff00", "#000000", "#ff0000"]}, "legend": {"offset": 19, "padding": 14, "rowPadding": 26, "encode": {"legend": {"update": {"strokeWidth": {"value": 3}}}}}},
            "strokeDash": {"field": "series", "type": "nominal", "scale": {"domain": ["Input", "Label", "BE-Transformer"], "range": [[1, 0], [1, 0], [28, 9, 9, 9]]}}
          }
        },
        {
          "data": {"name": "a_label"},
          "mark": {"type": "line", "strokeWidth": 7, "interpolate": "monotone", "clip": true},
          "encoding": {
            "x": {"field": "t", "type": "quantitative", "axis": null},
            "y": {"field": "v", "type": "quantitative", "axis": null},
            "color": {"field": "series", "type": "nominal"},
            "strokeDash": {"field": "series", "type": "nominal"}
          }
        },
        {
          "data": {"name": "a_be"},
          "mark": {"type": "line", "strokeWidth": 7, "interpolate": "monotone", "clip": true},
          "encoding": {
            "x": {"field": "t", "type": "quantitative", "axis": {"orient": "top", "values": [0, 200, 400, 600, 800, 1000, 1200], "labels": false, "title": null}},
            "y": {"field": "v", "type": "quantitative", "axis": {"orient": "right", "values": [-1, 0, 1, 2], "labels": false, "title": null}},
            "color": {"field": "series", "type": "nominal"},
            "strokeDash": {"field": "series", "type": "nominal"}
          }
        },
        {
          "data": {"values": [{"panel": "(a)"}]},
          "mark": {"type": "text", "dx": -136, "dy": 4},
          "encoding": {
            "x": {"datum": 0, "type": "quantitative", "axis": null},
            "y": {"datum": 2.4, "type": "quantitative", "axis": null},
            "text": {"field": "panel", "type": "nominal"}
          }
        }
      ]
    },
    {
      "width": 1450, "height": 598,
      "resolve": {"axis": {"x": "independent", "y": "independent"}},
      "layer": [
        {
          "data": {"name": "b_input"},
          "mark": {"type": "line", "strokeWidth": 7, "interpolate": "monotone", "clip": true},
          "encoding": {
            "x": {"field": "t", "type": "quantitative", "scale": {"domain": [0, 1200], "nice": false}, "axis": {"orient": "bottom", "values": [0, 200, 400, 600, 800, 1000, 1200], "title": "Time(ms)", "labelColor": "#444444", "labelExpr": "'' + datum.value"}},
            "y": {"field": "v", "type": "quantitative", "scale": {"domain": [-2, 3], "nice": false, "zero": false}, "axis": {"orient": "left", "values": [-2, -1, 0, 1, 2, 3], "title": "Amplitude", "labelColor": "#444444", "labelExpr": "'' + datum.value"}},
            "color": {"field": "series", "type": "nominal", "scale": {"domain": ["Input", "Label", "BE-Transformer"], "range": ["#00ff00", "#000000", "#ff0000"]}, "legend": {"offset": 11, "padding": 10, "rowPadding": 14, "encode": {"legend": {"update": {"strokeWidth": {"value": 3}}}}}},
            "strokeDash": {"field": "series", "type": "nominal", "scale": {"domain": ["Input", "Label", "BE-Transformer"], "range": [[1, 0], [1, 0], [28, 9, 9, 9]]}}
          }
        },
        {
          "data": {"name": "b_label"},
          "mark": {"type": "line", "strokeWidth": 7, "interpolate": "monotone", "clip": true},
          "encoding": {
            "x": {"field": "t", "type": "quantitative", "axis": null},
            "y": {"field": "v", "type": "quantitative", "axis": null},
            "color": {"field": "series", "type": "nominal"},
            "strokeDash": {"field": "series", "type": "nominal"}
          }
        },
        {
          "data": {"name": "b_be"},
          "mark": {"type": "line", "strokeWidth": 7, "interpolate": "monotone", "clip": true},
          "encoding": {
            "x": {"field": "t", "type": "quantitative", "axis": {"orient": "top", "values": [0, 200, 400, 600, 800, 1000, 1200], "labels": false, "title": null}},
            "y": {"field": "v", "type": "quantitative", "axis": {"orient": "right", "values": [-2, -1, 0, 1, 2, 3], "labels": false, "title": null}},
            "color": {"field": "series", "type": "nominal"},
            "strokeDash": {"field": "series", "type": "nominal"}
          }
        },
        {
          "data": {"values": [{"panel": "(b)"}]},
          "mark": {"type": "text", "dx": -151, "dy": -6},
          "encoding": {
            "x": {"datum": 0, "type": "quantitative", "axis": null},
            "y": {"datum": 3, "type": "quantitative", "axis": null},
            "text": {"field": "panel", "type": "nominal"}
          }
        }
      ]
    },
    {
      "width": 1448, "height": 603,
      "resolve": {"axis": {"x": "independent", "y": "independent"}},
      "layer": [
        {
          "data": {"name": "a_input"},
          "mark": {"type": "line", "strokeWidth": 7, "interpolate": "monotone", "clip": true},
          "encoding": {
            "x": {"field": "t", "type": "quantitative", "scale": {"domain": [0, 1200], "nice": false}, "axis": {"orient": "bottom", "values": [0, 200, 400, 600, 800, 1000, 1200], "title": "Time(ms)", "labelExpr": "'' + datum.value"}},
            "y": {"field": "v", "type": "quantitative", "scale": {"domain": [-1.5, 2.4], "nice": false, "zero": false}, "axis": {"orient": "left", "values": [-1, 0, 1, 2], "title": "Amplitude", "labelExpr": "'' + datum.value"}},
            "color": {"field": "series", "type": "nominal", "scale": {"domain": ["Input", "Label", "CNN"], "range": ["#00ff00", "#000000", "#ff0000"]}, "legend": {"offset": 34, "padding": 10, "rowPadding": 13, "encode": {"legend": {"update": {"strokeWidth": {"value": 3}}}}}},
            "strokeDash": {"field": "series", "type": "nominal", "scale": {"domain": ["Input", "Label", "CNN"], "range": [[1, 0], [1, 0], [28, 9, 9, 9]]}}
          }
        },
        {
          "data": {"name": "a_label"},
          "mark": {"type": "line", "strokeWidth": 7, "interpolate": "monotone", "clip": true},
          "encoding": {
            "x": {"field": "t", "type": "quantitative", "axis": null},
            "y": {"field": "v", "type": "quantitative", "axis": null},
            "color": {"field": "series", "type": "nominal"},
            "strokeDash": {"field": "series", "type": "nominal"}
          }
        },
        {
          "data": {"name": "a_cnn"},
          "mark": {"type": "line", "strokeWidth": 7, "interpolate": "monotone", "clip": true},
          "encoding": {
            "x": {"field": "t", "type": "quantitative", "axis": {"orient": "top", "values": [0, 200, 400, 600, 800, 1000, 1200], "labels": false, "title": null}},
            "y": {"field": "v", "type": "quantitative", "axis": {"orient": "right", "values": [-1, 0, 1, 2], "labels": false, "title": null}},
            "color": {"field": "series", "type": "nominal"},
            "strokeDash": {"field": "series", "type": "nominal"}
          }
        }
      ]
    },
    {
      "width": 1450, "height": 603,
      "resolve": {"axis": {"x": "independent", "y": "independent"}},
      "layer": [
        {
          "data": {"name": "b_input"},
          "mark": {"type": "line", "strokeWidth": 7, "interpolate": "monotone", "clip": true},
          "encoding": {
            "x": {"field": "t", "type": "quantitative", "scale": {"domain": [0, 1200], "nice": false}, "axis": {"orient": "bottom", "values": [0, 200, 400, 600, 800, 1000, 1200], "title": "Time(ms)", "labelExpr": "'' + datum.value"}},
            "y": {"field": "v", "type": "quantitative", "scale": {"domain": [-2, 3], "nice": false, "zero": false}, "axis": {"orient": "left", "values": [-2, -1, 0, 1, 2, 3], "title": "Amplitude", "labelExpr": "'' + datum.value"}},
            "color": {"field": "series", "type": "nominal", "scale": {"domain": ["Input", "Label", "CNN"], "range": ["#00ff00", "#000000", "#ff0000"]}, "legend": {"offset": 14, "padding": 10, "rowPadding": 13, "encode": {"legend": {"update": {"strokeWidth": {"value": 3}}}}}},
            "strokeDash": {"field": "series", "type": "nominal", "scale": {"domain": ["Input", "Label", "CNN"], "range": [[1, 0], [1, 0], [28, 9, 9, 9]]}}
          }
        },
        {
          "data": {"name": "b_label"},
          "mark": {"type": "line", "strokeWidth": 7, "interpolate": "monotone", "clip": true},
          "encoding": {
            "x": {"field": "t", "type": "quantitative", "axis": null},
            "y": {"field": "v", "type": "quantitative", "axis": null},
            "color": {"field": "series", "type": "nominal"},
            "strokeDash": {"field": "series", "type": "nominal"}
          }
        },
        {
          "data": {"name": "b_cnn"},
          "mark": {"type": "line", "strokeWidth": 7, "interpolate": "monotone", "clip": true},
          "encoding": {
            "x": {"field": "t", "type": "quantitative", "axis": {"orient": "top", "values": [0, 200, 400, 600, 800, 1000, 1200], "labels": false, "title": null}},
            "y": {"field": "v", "type": "quantitative", "axis": {"orient": "right", "values": [-2, -1, 0, 1, 2, 3], "labels": false, "title": null}},
            "color": {"field": "series", "type": "nominal"},
            "strokeDash": {"field": "series", "type": "nominal"}
          }
        }
      ]
    }
  ]
}
